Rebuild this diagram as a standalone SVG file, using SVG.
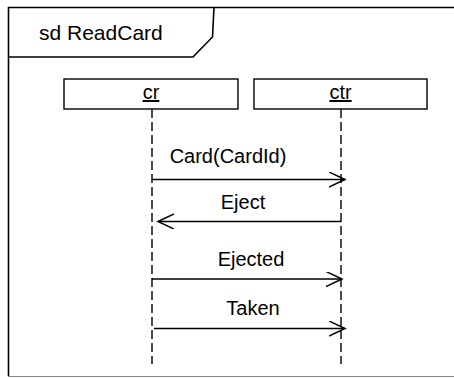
<svg xmlns="http://www.w3.org/2000/svg" width="454" height="378" viewBox="0 0 454 378">
<defs>
<style>
text{font-family:"Liberation Sans",Arial,sans-serif;fill:#000;}
.lbl{font-size:20px;text-anchor:middle;}
.frame{fill:none;stroke:#000;stroke-width:1.6;}
.box{fill:#fff;stroke:#000;stroke-width:1.4;}
.life{fill:none;stroke:#000;stroke-width:1.4;stroke-dasharray:9 4;}
.msg{fill:none;stroke:#000;stroke-width:1.5;}
</style>
<marker id="open" markerWidth="20" markerHeight="20" refX="16" refY="7.5" orient="auto" markerUnits="userSpaceOnUse">
<path d="M0,0 L16,7.5 L0,15" fill="none" stroke="#000" stroke-width="1.5"/>
</marker>
</defs>
<rect width="454" height="378" fill="#fff"/>
<g id="frame">
<path class="frame" d="M455,7.5 H8.5 V376"/>
<path d="M8,376.5 H455" fill="none" stroke="#888" stroke-width="1.2"/>
<path class="frame" d="M8.5,57 H193 L212.5,37 L214,7.5"/>
<text x="39" y="40" style="font-size:21px">sd ReadCard</text>
</g>
<g id="cr">
<rect class="box" x="64" y="79" width="174" height="30"/>
<text class="lbl" x="151" y="99" text-decoration="underline">cr</text>
<line class="life" x1="152" y1="109" x2="152" y2="364"/>
</g>
<g id="ctr">
<rect class="box" x="254" y="79" width="173" height="30"/>
<text class="lbl" x="340.5" y="99" text-decoration="underline">ctr</text>
<line class="life" x1="341" y1="109" x2="341" y2="364"/>
</g>
<g id="connectors">
<line class="msg" x1="152" y1="179.5" x2="345" y2="179.5" marker-end="url(#open)"/>
<text class="lbl" x="228" y="163">Card(CardId)</text>
<line class="msg" x1="341" y1="221.5" x2="158" y2="221.5" marker-end="url(#open)"/>
<text class="lbl" x="243" y="209">Eject</text>
<line class="msg" x1="152" y1="279" x2="342" y2="279" marker-end="url(#open)"/>
<text class="lbl" x="251" y="266">Ejected</text>
<line class="msg" x1="154" y1="328.5" x2="345" y2="328.5" marker-end="url(#open)"/>
<text class="lbl" x="253" y="315">Taken</text>
</g>
</svg>
